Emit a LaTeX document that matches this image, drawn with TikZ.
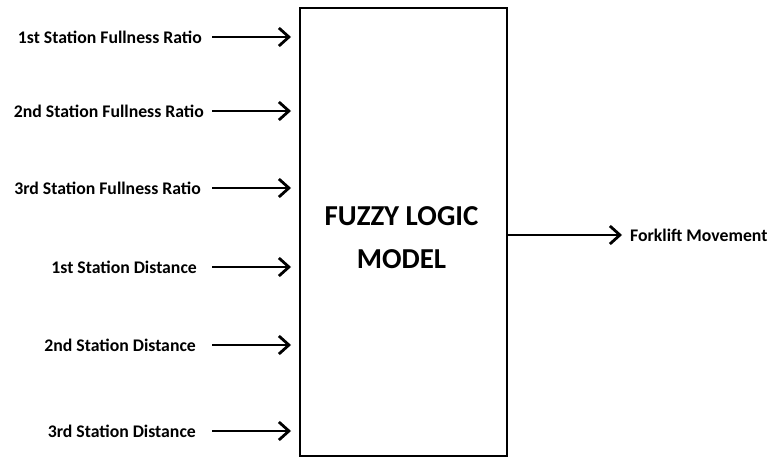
\documentclass[tikz,border=0pt]{standalone}
\usepackage{fontspec}
\setmainfont{Carlito}
\usetikzlibrary{arrows.meta}
\begin{document}
\begin{tikzpicture}[x=1bp,y=-1bp,
  inlabel/.style={anchor=east,inner sep=0pt,font=\bfseries\fontsize{17.8}{20}\selectfont},
  outlabel/.style={anchor=west,inner sep=0pt,font=\bfseries\fontsize{17.8}{20}\selectfont},
  conn/.style={line width=2.8bp,-{Straight Barb[length=10bp,width=18bp,line width=2.8bp]}},
  modelbox/.style={draw,line width=2.2bp,minimum width=207bp,minimum height=448bp,inner sep=0pt}]
\useasboundingbox (0,0) rectangle (770,458);
\node[modelbox] (m) at (403.5,232) {};
\node[font=\bfseries\fontsize{29}{43}\selectfont,align=center,inner sep=0pt] (t) at (401.5,237.5) {FUZZY LOGIC\\MODEL};
\foreach \i/\y/\txt/\rx in {1/37/1st Station Fullness Ratio/202,2/111/2nd Station Fullness Ratio/204,3/188/3rd Station Fullness Ratio/201,4/267/1st Station Distance/197,5/345/2nd Station Distance/196,6/431/3rd Station Distance/196}{
  \node[inlabel] (l\i) at (\rx,\y) {\txt};
  \coordinate (s\i) at (212,\y);
  \coordinate (e\i) at (291,\y);
  \draw[conn] (s\i) -- (e\i);
}
\coordinate (o1) at (m.east |- 0,235);
\coordinate (o2) at (622,235);
\draw[conn] (o1) -- (o2);
\node[outlabel] (out) at (630,235) {Forklift Movement};
\end{tikzpicture}
\end{document}
